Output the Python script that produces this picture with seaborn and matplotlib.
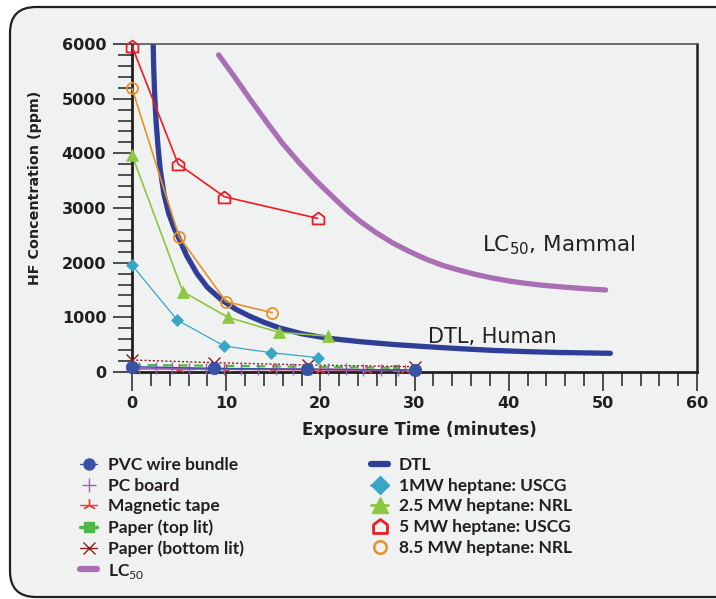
import matplotlib
matplotlib.use("Agg")
import matplotlib.pyplot as plt
import seaborn as sns
from matplotlib.patches import FancyBboxPatch
from matplotlib.lines import Line2D
from matplotlib.path import Path
from matplotlib.ticker import MultipleLocator

# ---------------- data ----------------
dtl_t = [2.25, 2.3, 2.4, 2.55, 2.75, 3.0, 3.4, 3.9, 4.5, 5.0, 5.8, 6.9, 8.0, 9.5, 11.0, 12.5,
         14.0, 15.6, 18.0, 20.7, 24.2, 28.0, 31.3, 35.0, 38.4, 42.0, 45.4, 50.8]
dtl_c = [6000, 5600, 5100, 4600, 4150, 3700, 3250, 2900, 2620, 2440, 2130, 1800, 1550, 1320,
         1150, 1020, 910, 810, 700, 620, 555, 500, 463, 425, 395, 372, 357, 342]

lc50_t = [9.2, 10.8, 12.5, 14.3, 16.0, 17.8, 19.6, 21.4, 23.0, 24.2, 26.0, 27.7, 29.5, 31.3,
          33.0, 34.8, 36.6, 38.4, 40.2, 41.9, 43.7, 45.4, 48.0, 50.3]
lc50_c = [5800, 5420, 5000, 4570, 4180, 3820, 3490, 3190, 2930, 2760, 2540, 2360, 2200, 2060,
          1950, 1860, 1780, 1715, 1660, 1620, 1585, 1560, 1525, 1500]

mw5_t = [0, 4.9, 9.8, 19.7]
mw5_c = [5960, 3805, 3207, 2811]

mw85_t = [0, 5.0, 10.0, 14.9]
mw85_c = [5190, 2475, 1286, 1085]

mw25_t = [0, 5.4, 10.2, 15.6, 20.8]
mw25_c = [3970, 1469, 1000, 726, 658]

mw1_t = [0, 4.8, 9.8, 14.8, 19.8]
mw1_c = [1957, 951, 475, 353, 262]

pvc_t = [0, 8.7, 18.6, 30.0]
pvc_c = [97, 67, 49, 37]

pcb_t = [0.7, 2.5, 4.2, 6.1, 7.9, 9.8, 11.6, 13.4, 15.3, 17.1, 19.0, 20.8, 22.7, 24.5, 26.4, 28.2]
pcb_c = [68, 67, 65, 64, 62, 61, 58, 57, 55, 52, 50, 48, 46, 44, 42, 40]

tape_t = [0, 5, 10, 15, 20, 25, 29]
tape_c = [60, 57, 52, 48, 43, 38, 33]

ptop_t = [0, 8.7, 18.6, 28.0]
ptop_c = [130, 115, 95, 75]

pbot_t = [0, 8.7, 18.7, 30.0]
pbot_c = [220, 171, 128, 97]

x_ticks = [0, 10, 20, 30, 40, 50, 60]
y_ticks = [0, 1000, 2000, 3000, 4000, 5000, 6000]

labels_left = ["PVC wire bundle", "PC board", "Magnetic tape", "Paper (top lit)",
               "Paper (bottom lit)", "LC$_{50}$"]
labels_right = ["DTL", "1MW heptane: USCG", "2.5 MW heptane: NRL",
                "5 MW heptane: USCG", "8.5 MW heptane: NRL"]

# ---------------- style ----------------
sns.set_theme(style="ticks")
TXT = "#231F20"
BG = "#F0F1F1"
plt.rcParams["font.family"] = ["Lato", "DejaVu Sans"]
plt.rcParams["mathtext.fontset"] = "custom"
plt.rcParams["mathtext.rm"] = "Lato"
plt.rcParams["mathtext.bf"] = "Lato:bold"
plt.rcParams["text.color"] = TXT

C_DTL = "#2F3F97"
C_LC = "#A96EB4"
C_5 = "#ED1C24"
C_85 = "#E5922A"
C_25 = "#8DC63F"
C_1 = "#3AA6C6"
C_PVC = "#3953A4"
C_PCB = "#9E5FB5"
C_TAPE = "#EE3B3B"
C_PTOP = "#4CB848"
C_PBOT = "#8B1C1C"

house = Path([(-1, -1), (1, -1), (1, 0.25), (0, 1.0), (-1, 0.25), (-1, -1)],
             [Path.MOVETO, Path.LINETO, Path.LINETO, Path.LINETO, Path.LINETO, Path.CLOSEPOLY])

fig = plt.figure(figsize=(7.16, 5.99), dpi=100)
fig.patch.set_facecolor("white")
bg = FancyBboxPatch((10, 2), 740, 590, boxstyle="round,pad=0,rounding_size=26",
                    transform=None, facecolor=BG, edgecolor=TXT, linewidth=1.6, zorder=-10)
fig.patches.append(bg)

ax = fig.add_axes([132 / 716, 1 - 372 / 599, 565 / 716, 328 / 599])
ax.set_facecolor(BG)

def draw(t, c, **kw):
    base = dict(ax=ax, sort=False, estimator=None, clip_on=False, legend=False)
    base.update(kw)
    sns.lineplot(x=t, y=c, **base)

# low-level series
draw(ptop_t, ptop_c, color=C_PTOP, lw=1.6, linestyle=(0, (4, 3)), marker="s", markersize=4,
     markeredgecolor=C_PTOP, markerfacecolor=C_PTOP, zorder=3)
draw(pbot_t, pbot_c, color=C_PBOT, lw=1.0, linestyle=(0, (1.5, 1.5)), marker="x", markersize=8,
     markeredgecolor=C_PBOT, markeredgewidth=1.0, zorder=3)
draw(tape_t, tape_c, color=C_TAPE, lw=1.2, marker=(3, 2, 0), markersize=7,
     markeredgecolor=C_TAPE, markeredgewidth=0.8, zorder=3)
draw(pcb_t, pcb_c, color=C_PCB, lw=1.0, marker="+", markersize=8,
     markeredgecolor=C_PCB, markeredgewidth=1.0, zorder=3)
draw(pvc_t, pvc_c, color=C_PVC, lw=1.0, marker="o", markersize=9,
     markeredgecolor=C_PVC, markerfacecolor=C_PVC, markeredgewidth=0.5, zorder=4)

# curves
draw(lc50_t, lc50_c, color=C_LC, lw=3.8, solid_capstyle="round", solid_joinstyle="round", zorder=2)
sns.lineplot(x=dtl_t, y=dtl_c, ax=ax, sort=False, estimator=None, legend=False,
             color=C_DTL, lw=3.8, solid_capstyle="round", solid_joinstyle="round", zorder=2)

# heptane series
draw(mw1_t, mw1_c, color=C_1, lw=0.9, marker="D", markersize=6.5,
     markeredgecolor=C_1, markerfacecolor=C_1, markeredgewidth=0.5, zorder=5)
draw(mw25_t, mw25_c, color=C_25, lw=1.2, marker="^", markersize=9,
     markeredgecolor=C_25, markerfacecolor=C_25, markeredgewidth=0.5, zorder=5)
draw(mw85_t, mw85_c, color=C_85, lw=1.2, marker="o", markersize=8,
     markeredgecolor=C_85, markerfacecolor="none", markeredgewidth=1.3, zorder=5)
draw(mw5_t, mw5_c, color=C_5, lw=1.2, marker=house, markersize=8.5,
     markeredgecolor=C_5, markerfacecolor="none", markeredgewidth=1.3, zorder=5)

# axes
ax.set_xlim(0, 60)
ax.set_ylim(0, 6000)
ax.set_xticks(x_ticks)
ax.set_yticks(y_ticks)
ax.xaxis.set_minor_locator(MultipleLocator(2))
ax.yaxis.set_minor_locator(MultipleLocator(200))
ax.tick_params(which="major", direction="out", length=13.5, width=1.1, color=TXT,
               labelsize=11.5, labelcolor=TXT)
ax.tick_params(which="minor", direction="out", length=10, width=1.1, color=TXT)
ax.tick_params(axis="y", which="major", pad=5)
ax.tick_params(axis="x", which="major", pad=4)
for lab in ax.get_xticklabels() + ax.get_yticklabels():
    lab.set_fontweight("bold")
    lab.set_fontfamily("DejaVu Sans")

for side in ["left", "bottom"]:
    ax.spines[side].set_linewidth(2.0)
    ax.spines[side].set_color(TXT)
ax.spines["right"].set_linewidth(1.8)
ax.spines["right"].set_color(TXT)
ax.spines["top"].set_linewidth(1.2)
ax.spines["top"].set_color("#555555")
ax.spines["top"].set_visible(True)
ax.spines["right"].set_visible(True)

ax.set_xlabel("Exposure Time (minutes)", fontsize=12, fontweight="bold", color=TXT,
              family="DejaVu Sans")
ax.set_ylabel("HF Concentration (ppm)", fontsize=10.3, fontweight="bold", color=TXT,
              family="DejaVu Sans")
ax.xaxis.set_label_coords(0.508, -0.150)
ax.yaxis.set_label_coords(-0.160, 0.562)

ax.text(37.2, 2200, "LC$_{50}$, Mammal", fontsize=15.5, color=TXT, va="baseline", ha="left",
        family="DejaVu Sans", math_fontfamily="dejavusans")
ax.text(31.4, 530, "DTL, Human", fontsize=15, color=TXT, va="baseline", ha="left",
        family="DejaVu Sans")

# legends
hl = [
    Line2D([], [], color=C_PVC, lw=1.0, marker="o", markersize=8, markeredgecolor=C_PVC, markerfacecolor=C_PVC),
    Line2D([], [], color=C_PCB, lw=0, marker="+", markersize=10, markeredgewidth=1.0),
    Line2D([], [], color=C_TAPE, lw=1.0, marker=(3, 2, 0), markersize=9, markeredgewidth=1.0),
    Line2D([], [], color=C_PTOP, lw=2.5, marker="s", markersize=7, markeredgecolor=C_PTOP),
    Line2D([], [], color=C_PBOT, lw=1.0, marker="x", markersize=9, markeredgewidth=1.0),
    Line2D([], [], color=C_LC, lw=4.5),
]
hr = [
    Line2D([], [], color=C_DTL, lw=4.5, solid_capstyle="round"),
    Line2D([], [], color=C_1, lw=2.0, marker="D", markersize=9, markeredgecolor=C_1),
    Line2D([], [], color=C_25, lw=2.0, marker="^", markersize=11, markeredgecolor=C_25),
    Line2D([], [], color=C_5, lw=0, marker=house, markersize=10, markerfacecolor="none",
           markeredgewidth=2.0, markeredgecolor=C_5),
    Line2D([], [], color=C_85, lw=0, marker="o", markersize=9, markerfacecolor="none",
           markeredgewidth=1.8, markeredgecolor=C_85),
]
legkw = dict(frameon=False, handlelength=1.0, handletextpad=0.6, borderpad=0,
             borderaxespad=0, labelspacing=0.27, prop={"size": 12.5, "weight": "bold"},
             labelcolor=TXT, loc="upper left")
fig.legend(handles=hl, labels=labels_left, bbox_to_anchor=(80 / 716, 1 - 457 / 599), **legkw)
fig.legend(handles=hr, labels=labels_right, bbox_to_anchor=(371 / 716, 1 - 457 / 599), **legkw)

fig.savefig("out.png", dpi=100, facecolor="white")
